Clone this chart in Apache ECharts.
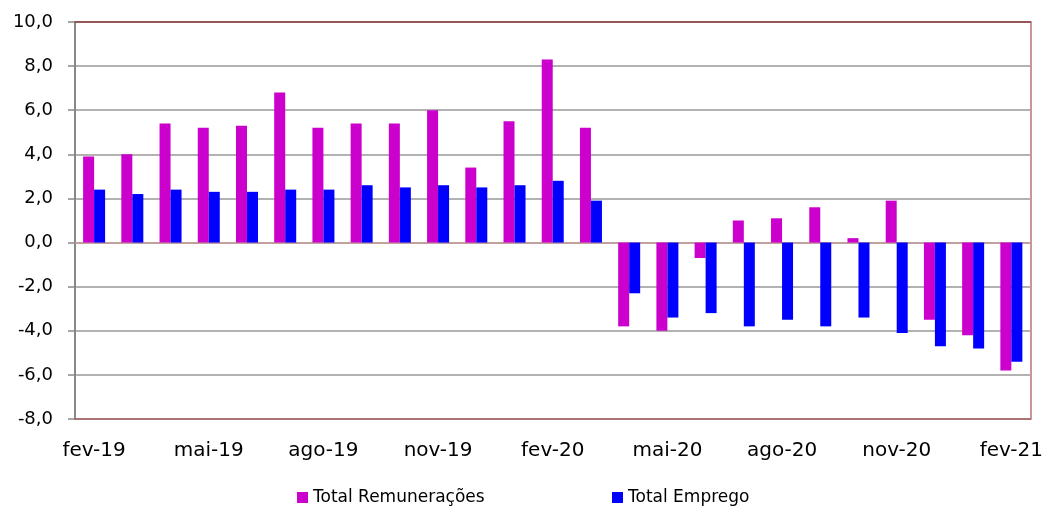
<!DOCTYPE html>
<html>
<head>
<meta charset="utf-8">
<script src="https://cdn.jsdelivr.net/npm/echarts@6/dist/echarts.min.js"></script>
<style>
  html, body { margin: 0; padding: 0; background: #fff; }
  #chart { width: 1046px; height: 506px; }
</style>
</head>
<body>
<div id="chart"></div>
<script>
  // meses fev-19 .. fev-21
  var months = ['fev-19', 'mar-19', 'abr-19', 'mai-19', 'jun-19', 'jul-19', 'ago-19', 'set-19', 'out-19',
    'nov-19', 'dez-19', 'jan-20', 'fev-20', 'mar-20', 'abr-20', 'mai-20', 'jun-20', 'jul-20', 'ago-20',
    'set-20', 'out-20', 'nov-20', 'dez-20', 'jan-21', 'fev-21']
  var remuneracoes = [3.9, 4.0, 5.4, 5.2, 5.3, 6.8, 5.2, 5.4, 5.4, 6.0, 3.4, 5.5, 8.3, 5.2,
    -3.8, -4.0, -0.7, 1.0, 1.1, 1.6, 0.2, 1.9, -3.5, -4.2, -5.8]
  var emprego = [2.4, 2.2, 2.4, 2.3, 2.3, 2.4, 2.4, 2.6, 2.5, 2.6, 2.5, 2.6, 2.8, 1.9,
    -2.3, -3.4, -3.2, -3.8, -3.5, -3.8, -3.4, -4.1, -4.7, -4.8, -5.4]
  var yMin = -8, yMax = 10, yStep = 2

  var font = 'DejaVu Sans'
  var chart = echarts.init(document.getElementById('chart'))

  var option = {
    animation: false,
    grid: { left: 75, right: 15, top: 22, bottom: 87 },
    legend: [
      {
        left: 297, top: 489, padding: 0, itemWidth: 11, itemHeight: 11, icon: 'rect',
        textStyle: { fontFamily: font, fontSize: 17, color: '#000' },
        data: ['Total Remunerações']
      },
      {
        left: 612, top: 489, padding: 0, itemWidth: 11, itemHeight: 11, icon: 'rect',
        textStyle: { fontFamily: font, fontSize: 17, color: '#000' },
        data: ['Total Emprego']
      }
    ],
    xAxis: [
      {
        // linha do zero com marcas
        type: 'category',
        data: months,
        axisLine: { onZero: true, lineStyle: { color: '#c89a9a', width: 1.5 } },
        axisTick: { interval: 2, length: 6, lineStyle: { color: '#a05050' } },
        axisLabel: { show: false }
      },
      {
        type: 'category',
        data: months,
        position: 'bottom',
        axisLine: { onZero: false, lineStyle: { color: '#a86060', width: 1.5 } },
        axisTick: { show: false },
        axisLabel: { interval: 2, margin: 22, fontFamily: font, fontSize: 20, color: '#000' }
      },
      {
        type: 'category',
        data: months,
        position: 'top',
        axisLine: { onZero: false, lineStyle: { color: '#8b3a3a', width: 1.5 } },
        axisTick: { show: false },
        axisLabel: { show: false }
      }
    ],
    yAxis: [
      {
        type: 'value',
        min: yMin, max: yMax, interval: yStep,
        axisLine: { show: true, lineStyle: { color: '#888', width: 2 } },
        axisTick: { show: true, length: 7, lineStyle: { color: '#888', width: 1.5 } },
        splitLine: { lineStyle: { color: '#999', width: 1.5 } },
        axisLabel: {
          margin: 22, fontFamily: font, fontSize: 18, color: '#000',
          formatter: function (v) { return v.toFixed(1).replace('.', ',') }
        }
      },
      {
        type: 'value',
        position: 'right',
        min: yMin, max: yMax, interval: yStep,
        axisLine: { show: true, lineStyle: { color: '#c89898', width: 2 } },
        axisTick: { show: false },
        axisLabel: { show: false },
        splitLine: { show: false }
      }
    ],
    series: [
      {
        name: 'Total Remunerações',
        type: 'bar',
        xAxisIndex: 0,
        barWidth: 11,
        barGap: '0%',
        itemStyle: { color: '#cc00cc' },
        data: remuneracoes
      },
      {
        name: 'Total Emprego',
        type: 'bar',
        xAxisIndex: 0,
        barWidth: 11,
        itemStyle: { color: '#0000ff' },
        data: emprego
      }
    ]
  }

  chart.setOption(option)
</script>
</body>
</html>
